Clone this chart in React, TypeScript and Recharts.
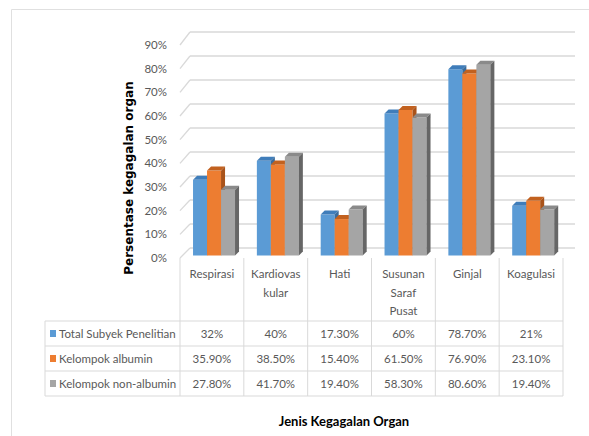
import React from "react";
import { BarChart, Bar, XAxis, YAxis, CartesianGrid, Customized } from "recharts";

// ---- data ----
const categories: string[][] = [
  ["Respirasi"],
  ["Kardiovas", "kular"],
  ["Hati"],
  ["Susunan", "Saraf", "Pusat"],
  ["Ginjal"],
  ["Koagulasi"],
];
const seriesNames = ["Total Subyek Penelitian", "Kelompok albumin", "Kelompok non-albumin"];
const totalSubyek = [32, 40, 17.3, 60, 78.7, 21];
const kelompokAlbumin = [35.9, 38.5, 15.4, 61.5, 76.9, 23.1];
const kelompokNonAlbumin = [27.8, 41.7, 19.4, 58.3, 80.6, 19.4];
const yTicks = [0, 10, 20, 30, 40, 50, 60, 70, 80, 90];

const seriesValues = [totalSubyek, kelompokAlbumin, kelompokNonAlbumin];
const data = categories.map((c, i) => ({
  name: c.join(" "),
  idx: i,
  total: totalSubyek[i],
  albumin: kelompokAlbumin[i],
  nonAlbumin: kelompokNonAlbumin[i],
}));

// ---- style ----
const FONT = "Lato, 'Open Sans', sans-serif";
const FS = 11.5;
const W = 589;
const H = 436;
const PLOT_L = 180;
const PLOT_R = 563;
const PLOT_T = 45;
const PLOT_B = 258;
const YAXIS_W = 60;
const XAXIS_H = 140;
const GRID = "#d9d9d9";
const TXT = "#595959";
const COLORS = [
  { front: "#5B9BD5", top: "#3F7DBA", side: "#3A6C9C" },
  { front: "#ED7D31", top: "#C2611F", side: "#A9531A" },
  { front: "#A5A5A5", top: "#8A8A8A", side: "#666666" },
];

const fmt = (v: number) => (Number.isInteger(v) ? `${v}%` : `${v.toFixed(2)}%`);

const make3D = (c: { front: string; top: string; side: string }) => (props: any) => {
  const { x, y, width, height } = props;
  if (x == null || y == null) return <g />;
  const off = 2.5;
  const d = 4;
  const fx = x + off;
  const fy = y - off;
  return (
    <g>
      <rect x={fx} y={fy} width={width} height={height} fill={c.front} />
      <polygon
        points={`${fx},${fy} ${fx + d},${fy - d} ${fx + width + d},${fy - d} ${fx + width},${fy}`}
        fill={c.top}
      />
      <polygon
        points={`${fx + width},${fy} ${fx + width + d},${fy - d} ${fx + width + d},${fy + height - d} ${fx + width},${fy + height}`}
        fill={c.side}
      />
    </g>
  );
};

const gridLine = (props: any) => {
  const { x1, x2, y1, key } = props;
  const dy = -(10 + (3 * (PLOT_B - y1)) / (PLOT_B - PLOT_T));
  return (
    <g key={key}>
      <line x1={x1} y1={y1} x2={x1 + 10} y2={y1 + dy} stroke={GRID} strokeWidth={1.3} />
      <line x1={x1 + 10} y1={y1 + dy} x2={x2 + 12} y2={y1 + dy} stroke={GRID} strokeWidth={1.5} />
    </g>
  );
};

const XTick = (props: any) => {
  const { x, y, payload } = props;
  const i = payload.index;
  const lines = categories[i] || [];
  return (
    <g fontFamily={FONT} fontSize={FS} fill={TXT}>
      {lines.map((l, k) => (
        <text key={k} x={x} y={y + 20 + k * 18.5} textAnchor="middle" fill={TXT}>
          {l}
        </text>
      ))}
      {seriesValues.map((vals, j) => (
        <text key={"v" + j} x={x} y={y + 79.5 + j * 25} textAnchor="middle" fill={TXT}>
          {fmt(vals[i])}
        </text>
      ))}
    </g>
  );
};

const Static = () => {
  const colW = (PLOT_R - PLOT_L) / categories.length;
  const rowYs = [321, 346, 371, 396];
  return (
    <g>
      {/* outer frame */}
      <line x1={11.5} y1={9.5} x2={11.5} y2={H} stroke="#e0e0e0" strokeWidth={1} />
      <line x1={11.5} y1={9.5} x2={W} y2={9.5} stroke="#e0e0e0" strokeWidth={1} />
      {/* table */}
      {rowYs.map((ry) => (
        <line key={ry} x1={45} y1={ry} x2={PLOT_R} y2={ry} stroke={GRID} strokeWidth={1} />
      ))}
      <line x1={45} y1={321} x2={45} y2={396} stroke={GRID} strokeWidth={1} />
      {Array.from({ length: categories.length + 1 }).map((_, k) => (
        <line
          key={"c" + k}
          x1={PLOT_L + k * colW}
          y1={PLOT_B}
          x2={PLOT_L + k * colW}
          y2={396}
          stroke={GRID}
          strokeWidth={1}
        />
      ))}
      {seriesNames.map((n, j) => (
        <g key={n}>
          <rect x={50} y={330 + j * 25} width={6} height={7} fill={COLORS[j].front} />
          <text x={59} y={337.5 + j * 25} fontFamily={FONT} fontSize={FS} fill={TXT}>
            {n}
          </text>
        </g>
      ))}
      {/* titles */}
      <text
        x={344}
        y={426}
        textAnchor="middle"
        fontFamily={FONT}
        fontSize={13}
        fontWeight="bold"
        fill="#000"
      >
        Jenis Kegagalan Organ
      </text>
      <text
        transform="translate(133,178) rotate(-90)"
        textAnchor="middle"
        fontFamily="'DejaVu Sans', sans-serif"
        fontSize={12}
        fontWeight="bold"
        fill="#000"
      >
        Persentase kegagalan organ
      </text>
    </g>
  );
};

export default function App() {
  return (
    <div style={{ position: "absolute", left: 0, top: 0, width: W, height: H, background: "#fff" }}>
      <BarChart
        width={W}
        height={H}
        data={data}
        margin={{ top: PLOT_T, right: W - PLOT_R, left: PLOT_L - YAXIS_W, bottom: H - PLOT_B - XAXIS_H }}
        barGap={0}
        barCategoryGap="16.5%"
      >
        <CartesianGrid horizontal={gridLine} vertical={false} />
        <YAxis
          type="number"
          domain={[0, 90]}
          ticks={yTicks}
          width={YAXIS_W}
          axisLine={false}
          tickLine={false}
          tickSize={6}
          tickMargin={7}
          tickFormatter={(v: number) => `${v}%`}
          tick={{ fontFamily: FONT, fontSize: FS, fill: TXT }}
          interval={0}
        />
        <XAxis
          dataKey="name"
          height={XAXIS_H}
          axisLine={false}
          tickLine={false}
          tickSize={0}
          tickMargin={0}
          interval={0}
          tick={<XTick />}
        />
        <Bar dataKey="total" isAnimationActive={false} shape={make3D(COLORS[0])} />
        <Bar dataKey="albumin" isAnimationActive={false} shape={make3D(COLORS[1])} />
        <Bar dataKey="nonAlbumin" isAnimationActive={false} shape={make3D(COLORS[2])} />
        <Customized component={Static} />
      </BarChart>
    </div>
  );
}
